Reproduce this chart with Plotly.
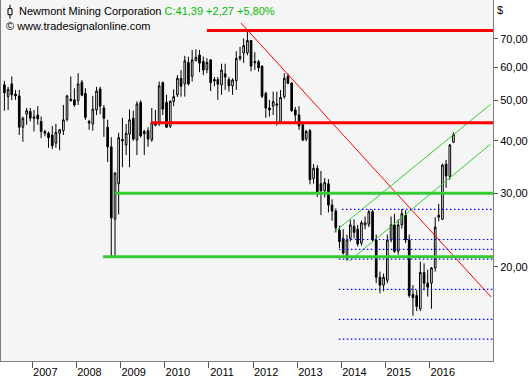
import plotly.graph_objects as go
import pandas as pd

# ---------------- data (monthly bars, May 2006 - Jul 2016) ----------------
start_month = "2006-05-01"
n_bars = 123
months = pd.date_range(start_month, periods=n_bars, freq="MS") + pd.Timedelta(days=14)

open_ = [
    54.4, 51.0, 54.7, 51.7, 51.2, 43.1, 46.3, 47.0,
    45.6, 46.1, 44.5, 42.1, 41.7, 41.3, 39.5, 41.7, 42.3, 45.0, 50.3, 50.1,
    49.9, 55.2, 51.9, 44.5, 43.9, 47.4, 53.2, 47.9, 43.1, 38.7, 26.0, 31.6,
    40.3, 39.1, 41.5, 45.3, 40.2, 49.4, 42.1, 42.3, 40.2, 44.1, 44.1, 55.1,
    49.4, 43.3, 49.7, 51.5, 56.4, 54.7, 61.5, 57.0, 62.1, 64.1, 61.9, 59.2,
    62.4, 56.0, 56.0, 54.4, 57.8, 56.0, 54.1, 55.7, 62.8, 64.8, 64.9, 69.4,
    61.9, 61.8, 60.3, 51.9, 47.9, 48.4, 49.0, 44.5, 51.0, 57.0, 54.9, 47.4,
    46.1, 43.7, 40.4, 42.3, 32.5, 34.4, 31.6, 30.4, 31.6, 28.1, 27.2, 24.5,
    23.4, 21.0, 23.4, 25.0, 24.6, 22.8, 25.2, 25.3, 27.1, 23.2, 18.9, 18.1,
    18.6, 23.2, 25.2, 21.8, 25.2, 26.6, 23.2, 17.2, 17.1, 15.9, 19.4, 18.3,
    18.3, 19.9, 26.3, 26.0, 35.2, 32.9, 39.7,
]
high = [
    55.6, 53.8, 57.0, 52.9, 52.9, 45.7, 47.9, 47.9,
    47.4, 48.4, 45.7, 42.5, 42.1, 43.4, 43.9, 42.7, 48.7, 51.5, 57.0, 53.4,
    58.0, 55.9, 53.4, 44.9, 51.2, 53.8, 53.9, 48.7, 44.9, 40.8, 33.7, 41.8,
    45.4, 43.9, 47.5, 47.2, 49.7, 50.0, 42.5, 43.1, 47.9, 47.4, 55.4, 55.4,
    51.5, 50.0, 53.1, 57.4, 59.0, 63.8, 63.5, 65.9, 66.1, 65.9, 63.6, 63.0,
    62.7, 56.8, 56.8, 61.1, 61.1, 56.8, 56.4, 65.4, 67.0, 70.2, 73.4, 69.6,
    65.1, 62.4, 60.5, 52.4, 50.1, 52.4, 52.4, 52.9, 58.0, 57.9, 55.2, 48.2,
    48.4, 44.3, 42.5, 42.7, 35.2, 35.0, 33.9, 32.6, 32.4, 29.0, 27.6, 25.1,
    24.6, 23.9, 25.9, 26.0, 25.2, 25.8, 26.4, 27.4, 27.4, 23.9, 19.5, 19.3,
    23.9, 26.4, 26.8, 26.0, 27.5, 27.3, 23.9, 18.1, 17.6, 20.6, 20.4, 19.7,
    20.0, 26.3, 28.3, 35.3, 36.0, 39.3, 41.9,
]
low = [
    47.2, 47.4, 50.0, 50.1, 41.3, 39.8, 43.7, 44.5,
    42.1, 43.7, 40.6, 41.0, 38.5, 38.2, 38.5, 38.0, 41.3, 44.5, 49.6, 48.2,
    48.7, 51.1, 44.9, 42.5, 42.3, 46.1, 46.3, 40.9, 35.6, 21.16, 21.16, 26.7,
    34.6, 37.0, 34.6, 40.0, 37.0, 40.7, 37.0, 38.7, 39.8, 43.3, 43.4, 46.1,
    42.9, 42.9, 48.4, 50.9, 51.0, 51.0, 54.2, 55.4, 62.0, 58.3, 57.4, 58.0,
    52.6, 54.0, 50.1, 51.5, 52.9, 52.4, 51.5, 52.9, 62.1, 61.4, 64.0, 58.6,
    59.0, 58.5, 50.6, 45.4, 45.7, 46.1, 43.5, 44.1, 50.4, 54.6, 46.9, 44.1,
    42.5, 39.9, 39.9, 31.5, 31.6, 29.4, 26.6, 29.3, 27.0, 25.8, 24.2, 22.2,
    21.4, 20.7, 23.0, 23.4, 22.4, 22.5, 24.6, 24.9, 23.0, 18.3, 17.3, 17.5,
    18.3, 22.9, 21.6, 21.4, 24.7, 22.8, 16.9, 15.3, 15.7, 15.7, 17.6, 17.0,
    15.9, 19.5, 25.7, 25.9, 30.9, 32.3, 39.5,
]
close = [
    52.1, 53.1, 51.5, 51.2, 43.1, 45.3, 47.2, 45.3,
    45.3, 45.1, 42.1, 41.7, 40.7, 38.9, 41.9, 42.5, 44.9, 51.2, 49.9, 48.7,
    54.7, 51.4, 45.5, 44.1, 47.6, 52.6, 48.4, 45.3, 38.7, 26.2, 33.5, 40.7,
    40.0, 41.7, 44.9, 40.4, 49.0, 41.1, 41.6, 40.4, 44.2, 43.6, 54.1, 47.6,
    43.1, 49.7, 51.0, 56.4, 54.0, 62.1, 54.7, 62.4, 63.3, 61.3, 59.0, 61.5,
    55.1, 55.6, 54.6, 59.0, 56.8, 54.1, 55.9, 62.9, 63.6, 67.5, 69.4, 60.3,
    61.4, 59.8, 51.1, 47.9, 47.4, 49.6, 48.7, 50.8, 56.4, 54.9, 47.2, 46.1,
    43.4, 40.2, 42.1, 32.3, 34.4, 30.2, 30.4, 31.8, 28.1, 27.2, 24.8, 23.0,
    21.6, 23.2, 25.2, 24.2, 22.7, 25.5, 25.5, 27.1, 23.2, 18.9, 18.1, 18.9,
    23.2, 25.2, 21.8, 25.2, 26.8, 23.2, 17.1, 16.9, 16.1, 19.4, 18.3, 17.9,
    19.9, 24.9, 26.6, 35.0, 33.0, 39.1, 41.4,
]

# horizontal support / resistance levels
level_starts = ["2010-12-15", "2009-09-08", "2008-11-15", "2008-08-08"]
level_values = [73.3, 44.2, 30.0, 21.16]
level_colors = ["#ff0000", "#ff0000", "#33cc33", "#33cc33"]
level_end = "2017-07-15"

# dotted levels
dotted_values = [27.46, 23.26, 22.04, 20.88, 17.69, 14.99, 13.45]
dotted_starts = ["2014-01-05", "2013-12-10", "2013-12-10", "2013-12-10",
                 "2013-12-10", "2013-12-10", "2013-12-10"]

# trend lines
trend_x = [["2011-09-23", "2017-05-22"], ["2013-10-31", "2017-05-19"], ["2014-03-07", "2017-05-19"]]
trend_y = [[76.4, 16.96], [24.2, 48.9], [20.67, 39.31]]
trend_colors = ["#ff0000", "#33cc33", "#33cc33"]

years = list(range(2007, 2017))
year_ticks = [f"{y}-01-01" for y in years]
year_labels = [str(y) for y in years]
price_ticks = [20, 30, 40, 50, 60, 70]
price_labels = ["20,00", "30,00", "40,00", "50,00", "60,00", "70,00"]

FONT = "Liberation Sans, Arial, sans-serif"

fig = go.Figure()
fig.add_trace(go.Candlestick(
    x=months, open=open_, high=high, low=low, close=close,
    increasing=dict(line=dict(color="black", width=1), fillcolor="white"),
    decreasing=dict(line=dict(color="black", width=1), fillcolor="black"),
    whiskerwidth=0, showlegend=False, hoverinfo="skip",
))

for xs, ys, c in zip(trend_x, trend_y, trend_colors):
    fig.add_trace(go.Scatter(x=xs, y=ys, mode="lines", line=dict(color=c, width=1),
                             showlegend=False, hoverinfo="skip"))

for v, s in zip(dotted_values, dotted_starts):
    fig.add_trace(go.Scatter(x=[s, level_end], y=[v, v], mode="lines",
                             line=dict(color="#0000ff", width=1.2, dash="1.5px,2.5px"),
                             showlegend=False, hoverinfo="skip"))

for s, v, c in zip(level_starts, level_values, level_colors):
    fig.add_trace(go.Scatter(x=[s, level_end], y=[v, v], mode="lines",
                             line=dict(color=c, width=3),
                             showlegend=False, hoverinfo="skip"))

fig.update_layout(
    width=530, height=380,
    margin=dict(l=1, r=37, t=0, b=19, autoexpand=False),
    paper_bgcolor="white", plot_bgcolor="#f5f5f5",
    showlegend=False,
    xaxis=dict(
        type="date", range=["2006-04-17", "2017-06-07"],
        rangeslider=dict(visible=False), automargin=False,
        showgrid=False, zeroline=False,
        showline=True, linecolor="#808080", linewidth=1,
        tickmode="array", tickvals=year_ticks, ticktext=year_labels,
        ticks="outside", ticklen=6, tickcolor="#555555", tickwidth=1,
        ticklabelshift=13, ticklabelstandoff=-5,
        tickfont=dict(family=FONT, size=11, color="black"),
    ),
    yaxis=dict(
        type="log", range=[1.0767, 1.9381], side="right", automargin=False,
        showgrid=False, zeroline=False,
        showline=True, mirror=True, linecolor="#808080", linewidth=1,
        tickmode="array", tickvals=price_ticks, ticktext=price_labels,
        ticks="outside", ticklen=4, tickcolor="#555555", tickwidth=1,
        tickfont=dict(family=FONT, size=11, color="black"),
    ),
)

# legend icon
fig.add_shape(type="line", xref="paper", yref="paper", x0=0.01829, x1=0.01829,
              y0=0.9482, y1=0.9870, line=dict(color="black", width=1))
fig.add_shape(type="rect", xref="paper", yref="paper", x0=0.01423, x1=0.02236,
              y0=0.9593, y1=0.9759, line=dict(color="black", width=1), fillcolor="#f5f5f5")

fig.add_annotation(xref="paper", yref="paper", x=0.0325, y=0.9695, xanchor="left", yanchor="middle",
                   showarrow=False, font=dict(family=FONT, size=11, color="black"),
                   text="Newmont Mining Corporation <span style='color:#00bb00'>C:41,39 +2,27 +5,80%</span>")
fig.add_annotation(xref="paper", yref="paper", x=0.0061, y=0.9288, xanchor="left", yanchor="middle",
                   showarrow=False, font=dict(family=FONT, size=11, color="black"),
                   text="© www.tradesignalonline.com")
fig.add_annotation(xref="paper", yref="paper", x=1.0142, y=0.9723, xanchor="center", yanchor="middle",
                   showarrow=False, font=dict(family=FONT, size=11, color="black"), text="$")

fig.write_html("out.html")
